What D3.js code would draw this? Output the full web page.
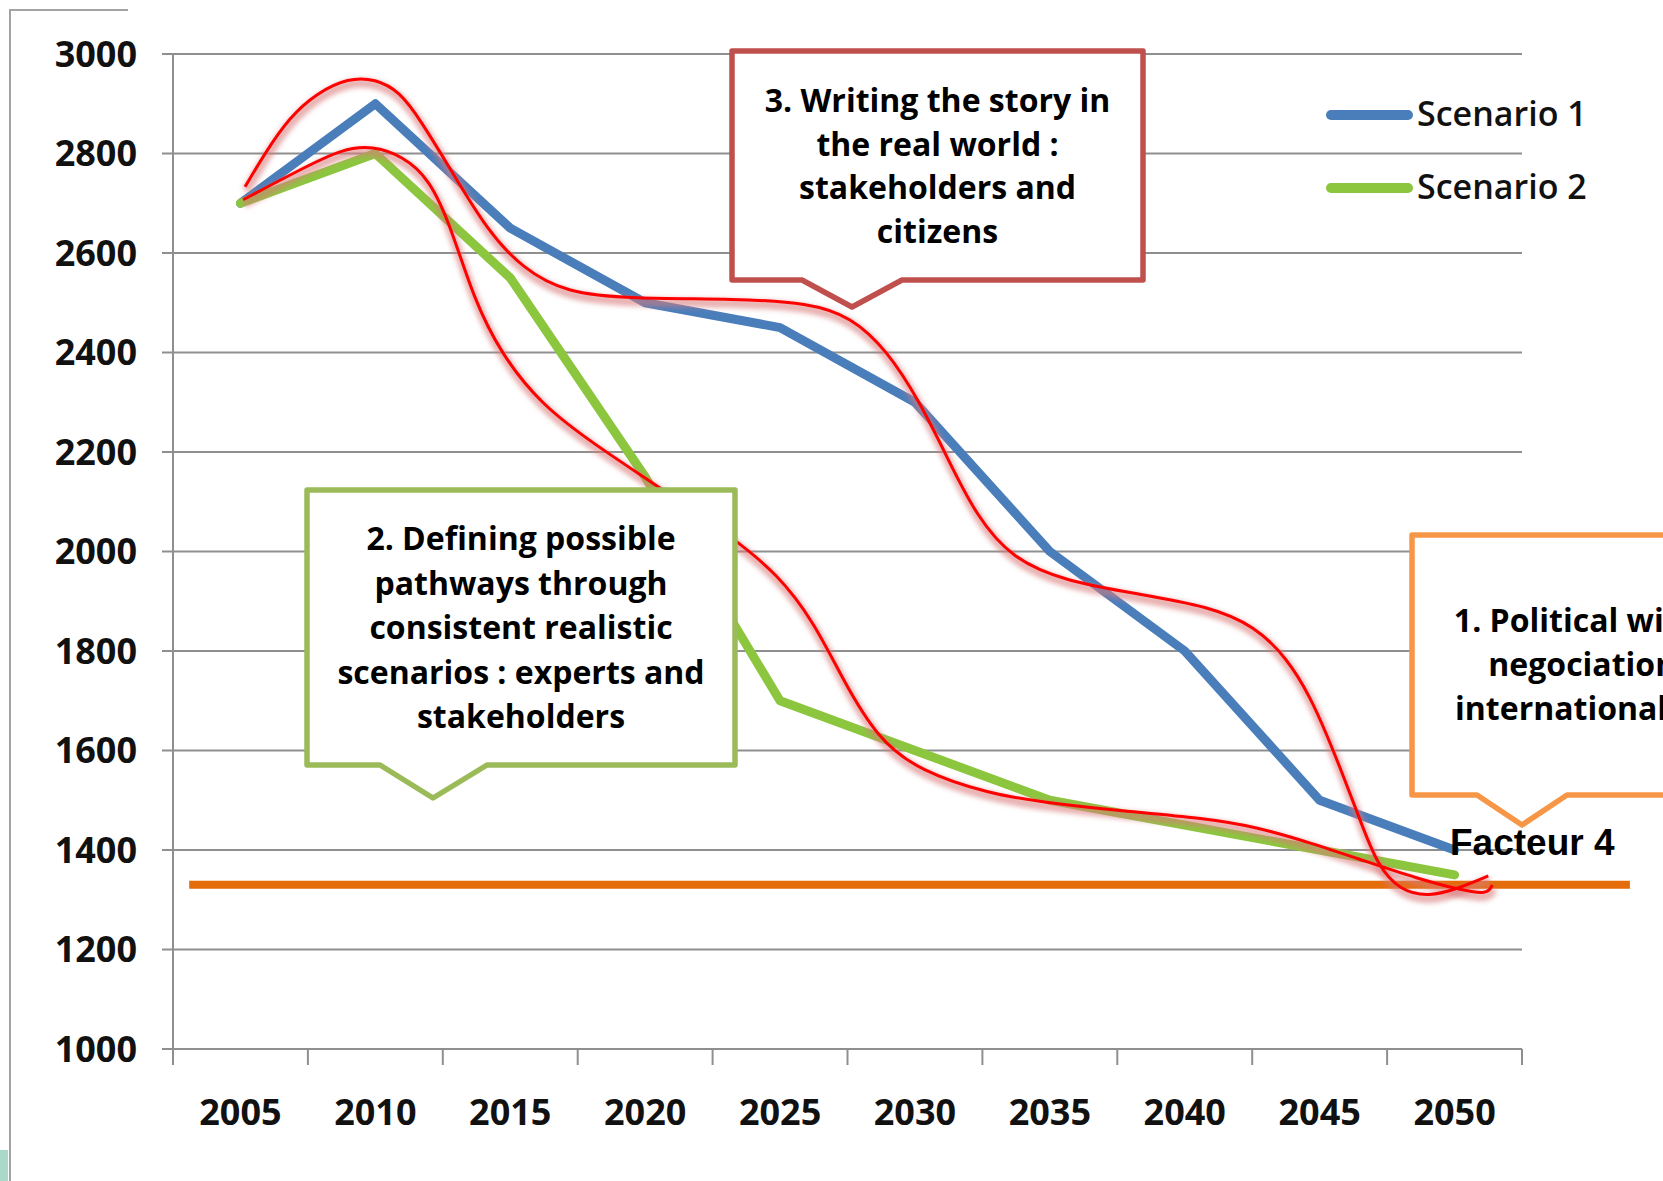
<!DOCTYPE html>
<html>
<head>
<meta charset="utf-8">
<script src="https://d3js.org/d3.v7.min.js"></script>
<style>
    body { margin: 0; background: #fff; }
    .grid line { stroke: #8f8f8f; stroke-width: 2; }
    .tick-label { font-family: "Open Sans", sans-serif; font-weight: 700; font-size: 36px; fill: #111; }
    .legend-label { font-family: "Open Sans", sans-serif; font-weight: 600; font-size: 34px; fill: #111; }
    .callout-text { font-family: "Open Sans", sans-serif; font-weight: 700; font-size: 32px; fill: #000; }
    .target-label { font-family: "Liberation Sans", Arial, sans-serif; font-weight: 700; font-size: 37px; fill: #000; }
</style>
</head>
<body>
<div id="vis"></div>
<script>
// Chart data
var years = [2005, 2010, 2015, 2020, 2025, 2030, 2035, 2040, 2045, 2050];
var scenario1 = [2700, 2900, 2650, 2500, 2450, 2300, 2000, 1800, 1500, 1400];
var scenario2 = [2700, 2800, 2550, 2150, 1700, 1600, 1500, 1450, 1400, 1350];
var seriesNames = ["Scenario 1", "Scenario 2"];
var yTicks = [1000, 1200, 1400, 1600, 1800, 2000, 2200, 2400, 2600, 2800, 3000];

// "Facteur 4" target line: [start year, end year], value
var targetSpan = [2003.1, 2056.5];
var targetValue = 1330;

// Hand drawn red envelopes, as [year, value]
var upperEnvelope = [
    [2005.17, 2733], [2005.9, 2800], [2006.8, 2872], [2007.84, 2922], [2009.0, 2952],
    [2010.0, 2950], [2010.9, 2925], [2011.7, 2865], [2012.80, 2767], [2014.14, 2646],
    [2015.47, 2568], [2017.07, 2520], [2019.44, 2508], [2023.41, 2508], [2026.07, 2500],
    [2027.63, 2472], [2028.96, 2405], [2030.19, 2300], [2031.23, 2185], [2032.27, 2072],
    [2033.60, 1985], [2035.60, 1940], [2038.23, 1915], [2040.90, 1890], [2042.61, 1850],
    [2043.80, 1785], [2044.65, 1708], [2045.28, 1630], [2045.87, 1550], [2046.50, 1460],
    [2047.13, 1370], [2047.98, 1318], [2049.06, 1306], [2050.10, 1322], [2051.25, 1348]
];
var lowerEnvelope = [
    [2005.10, 2707], [2007.22, 2768], [2008.8, 2810], [2009.9, 2815], [2011.0, 2795],
    [2012.0, 2750], [2012.82, 2650], [2013.63, 2510], [2014.67, 2396], [2016.15, 2295],
    [2018.12, 2215], [2020.56, 2128], [2023.27, 2027], [2024.90, 1955], [2026.24, 1860],
    [2027.35, 1740], [2028.61, 1624], [2030.20, 1558], [2032.76, 1513], [2034.76, 1496],
    [2037.39, 1480], [2040.73, 1464], [2042.69, 1446], [2044.69, 1414], [2046.66, 1378],
    [2048.66, 1342], [2050.21, 1320], [2051.22, 1310], [2051.40, 1330]
];

// Callout texts
var callout3 = ["3. Writing the story in", "the real world :", "stakeholders and", "citizens"];
var callout2 = ["2. Defining possible", "pathways through", "consistent realistic", "scenarios : experts and", "stakeholders"];
var callout1 = ["1. Political will and", "negociation at", "international level"];

// Set global sizes
var width = 1663,
    height = 1181,
    plot = { left: 173, right: 1522, top: 54, bottom: 1049 };

var svg = d3.select("#vis").append("svg")
    .attr("width", width)
    .attr("height", height);

var defs = svg.append("defs");
defs.append("filter")
    .attr("id", "glow")
    .attr("x", "-10%").attr("y", "-10%")
    .attr("width", "120%").attr("height", "120%")
    .append("feGaussianBlur")
    .attr("stdDeviation", 2.5);

// Scales
var xBand = d3.scaleBand()
    .domain(years)
    .range([plot.left, plot.right]);

// continuous year scale matching the band centres
var step = xBand.bandwidth();
var x = d3.scaleLinear()
    .domain([years[0] - 2.5, years[years.length - 1] + 2.5])
    .range([plot.left, plot.right]);

var y = d3.scaleLinear()
    .domain([1000, 3000])
    .range([plot.bottom, plot.top]);

// Outer frame bits
svg.append("path")
    .attr("d", "M10," + height + " V10 H128")
    .attr("fill", "none")
    .attr("stroke", "#a3a3a3")
    .attr("stroke-width", 2);
svg.append("rect")
    .attr("x", 0).attr("y", 1150)
    .attr("width", 8).attr("height", 31)
    .attr("fill", "#a9d9c9");

// Horizontal gridlines (including the x axis at 1000)
svg.append("g")
    .attr("class", "grid")
    .selectAll("line")
    .data(yTicks)
    .enter().append("line")
    .attr("x1", plot.left - 11)
    .attr("x2", plot.right)
    .attr("y1", function(d) { return y(d); })
    .attr("y2", function(d) { return y(d); });

// Y axis line
svg.append("line")
    .attr("x1", plot.left).attr("x2", plot.left)
    .attr("y1", plot.top).attr("y2", plot.bottom + 16)
    .attr("stroke", "#8f8f8f")
    .attr("stroke-width", 2);

// X ticks between categories
var boundaries = years.map(function(d) { return d - 2.5; }).concat([years[years.length - 1] + 2.5]);
svg.append("g")
    .selectAll("line")
    .data(boundaries)
    .enter().append("line")
    .attr("x1", function(d) { return x(d); })
    .attr("x2", function(d) { return x(d); })
    .attr("y1", plot.bottom)
    .attr("y2", plot.bottom + 16)
    .attr("stroke", "#8f8f8f")
    .attr("stroke-width", 2);

// Y tick labels
svg.append("g")
    .selectAll("text")
    .data(yTicks)
    .enter().append("text")
    .attr("class", "tick-label")
    .attr("x", 137)
    .attr("y", function(d) { return y(d); })
    .attr("dy", "0.36em")
    .attr("text-anchor", "end")
    .text(function(d) { return d; });

// X tick labels
svg.append("g")
    .selectAll("text")
    .data(years)
    .enter().append("text")
    .attr("class", "tick-label")
    .attr("x", function(d) { return xBand(d) + step / 2; })
    .attr("y", 1125)
    .attr("text-anchor", "middle")
    .text(function(d) { return d; });

// Series lines
var seriesColor = ["#4a7ebb", "#8cc63f"];
var line = d3.line()
    .x(function(d, i) { return xBand(years[i]) + step / 2; })
    .y(function(d) { return y(d); });

svg.append("g")
    .selectAll("path")
    .data([scenario1, scenario2])
    .enter().append("path")
    .attr("d", line)
    .attr("fill", "none")
    .attr("stroke", function(d, i) { return seriesColor[i]; })
    .attr("stroke-width", 9)
    .attr("stroke-linejoin", "round")
    .attr("stroke-linecap", "round");

// Facteur 4 target line
svg.append("line")
    .attr("x1", x(targetSpan[0]))
    .attr("x2", x(targetSpan[1]))
    .attr("y1", y(targetValue))
    .attr("y2", y(targetValue))
    .attr("stroke", "#e46c0a")
    .attr("stroke-width", 8);

// Red envelopes with a soft pink glow
var curve = d3.line()
    .x(function(d) { return x(d[0]); })
    .y(function(d) { return y(d[1]); })
    .curve(d3.curveBasis);

var envelopes = svg.append("g");
envelopes.selectAll("path.glow")
    .data([upperEnvelope, lowerEnvelope])
    .enter().append("path")
    .attr("class", "glow")
    .attr("d", curve)
    .attr("transform", "translate(1,4)")
    .attr("fill", "none")
    .attr("stroke", "#d9797a")
    .attr("stroke-opacity", 0.6)
    .attr("stroke-width", 9)
    .attr("filter", "url(#glow)");
envelopes.selectAll("path.red")
    .data([upperEnvelope, lowerEnvelope])
    .enter().append("path")
    .attr("class", "red")
    .attr("d", curve)
    .attr("fill", "none")
    .attr("stroke", "#ff0000")
    .attr("stroke-width", 3);

// Legend
var legend = svg.append("g")
    .selectAll("g")
    .data(seriesNames)
    .enter().append("g")
    .attr("transform", function(d, i) { return "translate(0," + (115 + i * 73) + ")"; });
legend.append("line")
    .attr("x1", 1331).attr("x2", 1408)
    .attr("stroke", function(d, i) { return seriesColor[i]; })
    .attr("stroke-width", 10)
    .attr("stroke-linecap", "round");
legend.append("text")
    .attr("class", "legend-label")
    .attr("x", 1417)
    .attr("y", 11)
    .text(function(d) { return d; });

// Callouts
function callout(box, color, lines, firstBaseline, lineStep) {
    var p = "M" + box.left + "," + box.top +
        " H" + box.right +
        " V" + box.bottom +
        " H" + box.baseRight +
        " L" + box.tipX + "," + box.tipY +
        " L" + box.baseLeft + "," + box.bottom +
        " H" + box.left + " Z";
    var g = svg.append("g");
    g.append("path")
        .attr("d", p)
        .attr("fill", "#fff")
        .attr("stroke", color)
        .attr("stroke-width", 5.5)
        .attr("stroke-linejoin", "round");
    g.selectAll("text")
        .data(lines)
        .enter().append("text")
        .attr("class", "callout-text")
        .attr("x", (box.left + box.right) / 2)
        .attr("y", function(d, i) { return firstBaseline + i * lineStep; })
        .attr("text-anchor", "middle")
        .text(function(d) { return d; });
}

callout({ left: 732, top: 51, right: 1143, bottom: 280, baseLeft: 802, baseRight: 902, tipX: 852, tipY: 307 },
    "#c0504d", callout3, 112, 43.7);
callout({ left: 307, top: 490, right: 735, bottom: 765, baseLeft: 380, baseRight: 487, tipX: 433, tipY: 798 },
    "#9bbb59", callout2, 550, 44.5);
callout({ left: 1412, top: 535, right: 1794, bottom: 795, baseLeft: 1477, baseRight: 1567, tipX: 1522, tipY: 825 },
    "#f79646", callout1, 632, 44);

// Facteur 4 label
svg.append("text")
    .attr("class", "target-label")
    .attr("x", 1450)
    .attr("y", 855)
    .text("Facteur 4");
</script>
</body>
</html>
